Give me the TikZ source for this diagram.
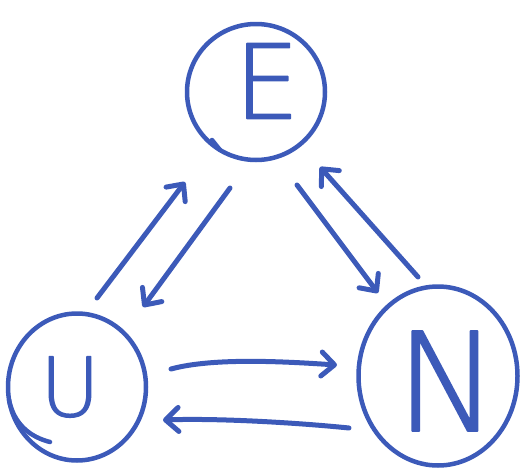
\documentclass[tikz,border=0pt]{standalone}
\usepackage{fontspec}
\newfontfamily\handfont[FakeBold=1.5]{DejaVu Sans ExtraLight}
\usetikzlibrary{arrows.meta,shapes.geometric}
\definecolor{ink}{RGB}{60,90,185}
\begin{document}
\begin{tikzpicture}[x=1pt, y=-1pt, line cap=round, line join=round]
\tikzset{
  ring/.style={draw=ink, line width=4.5pt, ellipse, inner sep=0pt},
  letter/.style={text=ink, inner sep=0pt, font=\handfont},
  arr/.style={draw=ink, line width=5pt,
    -{Straight Barb[length=13pt, width=24pt, line cap=round, line join=round]}},
  pen/.style={draw=ink, line width=4.5pt}
}
\useasboundingbox (0,0) rectangle (522,471);

% the three circles
\node[ring, minimum width=138pt, minimum height=136pt] (Ering) at (256,92) {};
\node[ring, minimum width=138pt, minimum height=147pt] (Uring) at (77,387) {};
\node[ring, minimum width=159pt, minimum height=179pt] (Nring) at (438,376) {};

% where the pen closed each circle
\draw[pen] (212,140) -- (220,150);
\draw[pen] (9,400) .. controls (14,424) and (30,437) .. (50,442);

% the letters
\node[letter, font=\handfont\fontsize{103}{103}\selectfont] (E) at (267,81) {E};
\node[letter, font=\handfont\fontsize{82}{82}\selectfont] (U) at (70,387) {U};
\node[letter, font=\handfont\fontsize{137}{137}\selectfont] (N) at (447,381) {N};

% arrow end points
\coordinate (ue0) at (97,298);  \coordinate (ue1) at (185,182);
\coordinate (eu0) at (230,188); \coordinate (eu1) at (143,307);
\coordinate (en0) at (297,185); \coordinate (en1) at (378,293);
\coordinate (ne0) at (418,277); \coordinate (ne1) at (320,167);
\coordinate (un0) at (171,369); \coordinate (un1) at (337,365);
\coordinate (nu0) at (349,428); \coordinate (nu1) at (163,420);

% connectors
\draw[arr] (ue0) -- (ue1);
\draw[arr] (eu0) -- (eu1);
\draw[arr] (en0) -- (en1);
\draw[arr] (ne0) -- (ne1);
\draw[arr] (un0) .. controls (215,357) and (290,362) .. (un1);
\draw[arr] (nu0) .. controls (300,423) and (220,418) .. (nu1);
\end{tikzpicture}
\end{document}
